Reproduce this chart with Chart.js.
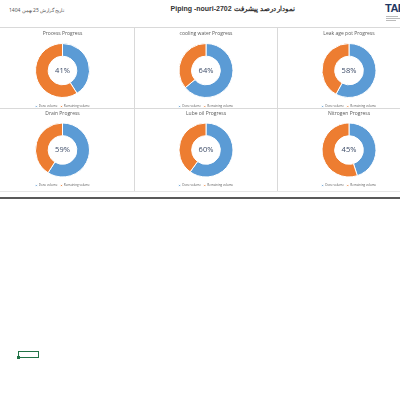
<!DOCTYPE html>
<html>
<head>
<meta charset="utf-8">
<script src="https://cdn.jsdelivr.net/npm/chart.js@4"></script>
<style>
  html, body { margin: 0; padding: 0; background: #fff; }
  body { width: 400px; height: 400px; position: relative; overflow: hidden; font-family: 'Open Sans', 'DejaVu Sans', sans-serif; }
  .cell { position: absolute; }
  .hline, .vline { position: absolute; background: #d9d9d9; }
  #title { position: absolute; top: 5px; left: 118px; width: 230px; text-align: center; font: bold 7px 'Liberation Sans', sans-serif; color: #333; white-space: nowrap; }
  #date { position: absolute; top: 7px; left: 9px; font: 5px 'Noto Sans', sans-serif; color: #555; white-space: nowrap; }
  #logo { position: absolute; top: 3px; left: 385px; font: bold 11px 'Liberation Sans Narrow', 'Liberation Sans', sans-serif; color: #1f3864; letter-spacing: -0.5px; line-height: 11px; }
  .tiny { position: absolute; left: 386px; height: 1px; background: #bbb; }
  #sel { position: absolute; left: 18px; top: 351px; width: 19px; height: 5px; border: 1px solid #217346; }
  #sel::after { content: ''; position: absolute; left: -2px; bottom: -2px; width: 3px; height: 3px; background: #217346; }
</style>
</head>
<body>
<div id="date"><span dir="rtl">تاریخ گزارش 25 بهمن 1404</span></div>
<div id="title">Piping -nouri-2702 <span dir="rtl">نمودار درصد پیشرفت</span></div>
<div id="logo">TAF</div>
<div class="tiny" style="top:16px; width:12px;"></div>
<div class="tiny" style="top:18px; width:14px;"></div>
<div class="tiny" style="top:20px; width:10px;"></div>

<div class="hline" style="left:0; top:27px; width:400px; height:1px;"></div>
<div class="hline" style="left:0; top:108px; width:400px; height:1px;"></div>
<div class="hline" style="left:0; top:191px; width:400px; height:1px; background:#e6e6e6;"></div>
<div class="vline" style="left:134px; top:28px; width:1px; height:163px;"></div>
<div class="vline" style="left:277px; top:28px; width:1px; height:163px;"></div>
<div class="hline" style="left:0; top:197px; width:400px; height:2px; background:#5a5a5a;"></div>

<div class="cell" style="left:-9px; top:29px; width:143px; height:89px;"><canvas id="c0"></canvas></div>
<div class="cell" style="left:135px; top:29px; width:142px; height:89px;"><canvas id="c1"></canvas></div>
<div class="cell" style="left:278px; top:29px; width:142px; height:89px;"><canvas id="c2"></canvas></div>
<div class="cell" style="left:-9px; top:109px; width:143px; height:88px;"><canvas id="c3"></canvas></div>
<div class="cell" style="left:135px; top:109px; width:142px; height:88px;"><canvas id="c4"></canvas></div>
<div class="cell" style="left:278px; top:109px; width:142px; height:88px;"><canvas id="c5"></canvas></div>

<div id="sel"></div>

<script>
// chart data
const chartTitles = ['Process Progress', 'cooling water Progress', 'Leak age pot Progress', 'Drain Progress', 'Lube oil Progress', 'Nitrogen Progress'];
const doneValues = [41, 64, 58, 59, 60, 45];
const remainingValues = [59, 36, 42, 41, 40, 55];
const legendLabels = ['Done volume', 'Remaining volume'];

const sliceColors = ['#5b9bd5', '#ed7d31'];

// percentage in the hole
const centerText = {
    id: 'centerText',
    afterDraw(chart) {
        const arc = chart.getDatasetMeta(0).data[0];
        if (!arc) return;
        const ctx = chart.ctx;
        ctx.save();
        ctx.font = '7.5px "Open Sans", sans-serif';
        ctx.fillStyle = '#3b4a66';
        ctx.textAlign = 'center';
        ctx.textBaseline = 'middle';
        ctx.fillText(chart.data.datasets[0].data[0] + '%', arc.x, arc.y);
        ctx.restore();
    }
};

chartTitles.forEach((title, i) => {
    const ctx = document.getElementById('c' + i).getContext('2d');
    new Chart(ctx, {
        type: 'doughnut',
        data: {
            labels: legendLabels,
            datasets: [{
                data: [doneValues[i], remainingValues[i]],
                backgroundColor: sliceColors,
                borderColor: '#fff',
                borderWidth: 1,
                radius: 27,
                cutout: '53%'
            }]
        },
        options: {
            responsive: true,
            maintainAspectRatio: false,
            animation: false,
            layout: { padding: { top: 0, bottom: 0 } },
            plugins: {
                title: {
                    display: true,
                    text: title,
                    color: '#595959',
                    font: { size: 5, family: 'Open Sans', weight: 'normal' },
                    padding: { top: 2, bottom: 2 }
                },
                legend: {
                    display: true,
                    position: 'bottom',
                    labels: {
                        color: '#595959',
                        font: { size: 3, family: 'Open Sans' },
                        boxWidth: 2,
                        boxHeight: 2,
                        padding: 3
                    }
                },
                tooltip: { enabled: false }
            }
        },
        plugins: [centerText]
    });
});
</script>
</body>
</html>
